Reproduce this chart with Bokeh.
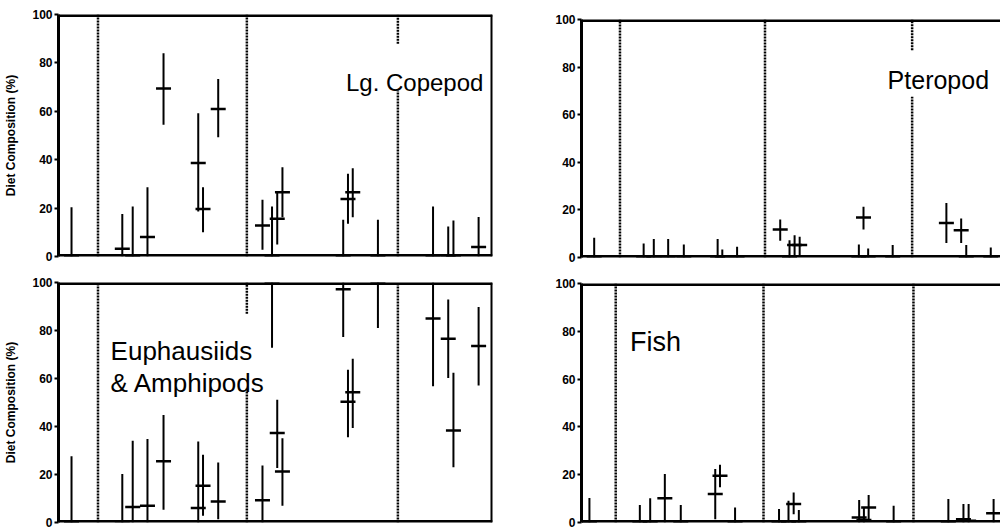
from bokeh.plotting import figure
from bokeh.layouts import row, column
from bokeh.models import FixedTicker, Span, ColumnDataSource
from bokeh.core.properties import value
from bokeh.embed import file_html
from bokeh.resources import INLINE

# ---------------- data ----------------
sample_pos = [3.0, 14.7, 17.1, 20.5, 24.2, 32.2, 33.3, 36.8, 47.0, 49.2,
              50.4, 51.6, 65.6, 66.7, 67.8, 73.6, 86.3, 89.8, 91.0, 96.8]
dividers = [9.1, 43.4, 78.2]
y_ticks = [0, 20, 40, 60, 80, 100]

copepod_mean = [0, 3.2, 0, 8.1, 69.4, 38.6, 19.6, 61.0, 12.8, 0,
                15.6, 26.6, 0, 23.8, 26.6, 0, 0, 0, 0, 3.9]
copepod_low = [0, 0, 0, 0, 54.4, 18.6, 10.0, 49.3, 2.8, 0,
               5.0, 16.2, 0, 13.5, 16.2, 0, 0, 0, 0, 0]
copepod_high = [20.4, 17.6, 20.7, 28.6, 84.0, 59.2, 28.6, 73.3, 23.4, 20.7,
                26.6, 36.9, 15.2, 34.2, 36.5, 15.2, 20.7, 12.4, 14.9, 16.3]

euph_mean = [0, 0.5, 6.5, 7.0, 25.5, 6.0, 15.3, 8.8, 9.3, 100,
             37.3, 21.2, 97.2, 50.3, 54.3, 100, 85.0, 76.6, 38.3, 73.5]
euph_low = [0, 0, 0, 0, 5.3, 0, 2.8, 1.4, 0, 72.8,
            22.7, 7.0, 77.3, 35.5, 39.4, 81.0, 56.8, 60.2, 23.0, 57.1]
euph_high = [27.6, 20.2, 34.1, 34.8, 44.8, 33.8, 28.2, 25.0, 23.7, 100,
             51.1, 35.1, 100, 63.6, 68.2, 100, 100, 92.9, 62.4, 89.8]

ptero_mean = [0, 0, 0, 0, 0, 0, 0, 0, 11.8, 0,
              5.2, 5.2, 0, 16.8, 0, 0, 14.5, 11.5, 0, 0]
ptero_low = [0, 0, 0, 0, 0, 0, 0, 0, 7.0, 0,
             1.0, 0.5, 0, 11.8, 0, 0, 6.1, 6.1, 0, 0]
ptero_high = [8.3, 5.9, 7.8, 7.8, 5.5, 7.8, 3.4, 4.5, 16.0, 7.3,
              9.4, 8.7, 5.5, 21.3, 3.8, 5.2, 22.9, 16.4, 5.2, 4.2]

fish_mean = [0, 0, 0, 10.1, 0, 11.9, 19.6, 0, 0, 0,
             7.7, 0, 2.1, 1.0, 6.3, 0, 0, 1.4, 0.7, 3.9]
fish_low = [0, 0, 0, 0, 0, 1.4, 14.7, 0, 0, 0,
            3.5, 0, 0, 0, 1.4, 0, 0, 0, 0, 0]
fish_high = [10.2, 7.3, 10.1, 20.3, 7.3, 22.4, 24.2, 6.3, 5.6, 9.1,
             12.6, 5.2, 9.4, 6.3, 11.5, 7.0, 9.8, 7.7, 7.7, 9.8]

# divider pieces (y from, y to) per divider, per panel
copepod_div = [[(0, 100)], [(0, 100)], [(0, 68.6), (87.9, 100)]]
euph_div = [[(0, 100)], [(0, 55.7), (87.0, 100)], [(0, 100)]]
ptero_div = [[(0, 100)], [(0, 100)], [(0, 67.5), (87.1, 100)]]
fish_div = [[(0, 100)], [(0, 100)], [(0, 100)]]

FONT = "Liberation Sans"


def make_panel(mean, low, high, divs, labels, x_range, width, height,
               bl, bt, bb, br, ylabel, right_edge):
    p = figure(width=width, height=height, x_range=x_range, y_range=(0, 100),
               output_backend="svg", toolbar_location=None,
               min_border_left=bl, min_border_top=bt, min_border_bottom=bb,
               min_border_right=br)
    p.xgrid.visible = False
    p.ygrid.visible = False
    p.xaxis.visible = False
    p.outline_line_color = None
    p.background_fill_color = "white"
    p.border_fill_color = "white"

    ax = p.yaxis[0]
    ax.ticker = FixedTicker(ticks=y_ticks)
    ax.axis_line_width = 3
    ax.axis_line_color = "black"
    ax.major_tick_out = 4
    ax.major_tick_in = 0
    ax.major_tick_line_width = 2
    ax.major_tick_line_color = "black"
    ax.minor_tick_line_color = None
    ax.major_label_standoff = 2
    ax.major_label_text_font = FONT
    ax.major_label_text_font_style = "bold"
    ax.major_label_text_font_size = "12px"
    ax.major_label_text_color = "black"
    if ylabel:
        ax.axis_label = ylabel
        ax.axis_label_text_font = FONT
        ax.axis_label_text_font_style = "bold"
        ax.axis_label_text_font_size = "12px"
        ax.axis_label_text_color = "black"
        ax.axis_label_standoff = 11

    # frame edges (drawn inside the frame)
    p.add_layout(Span(location=0, dimension="width", line_color="black", line_width=5))
    p.add_layout(Span(location=100, dimension="width", line_color="black", line_width=5))
    if right_edge:
        p.add_layout(Span(location=x_range[1], dimension="height",
                          line_color="black", line_width=4))

    # dotted dividers
    dx, dy0, dy1 = [], [], []
    for xpos, pieces in zip(dividers, divs):
        for a, b in pieces:
            dx.append(xpos)
            dy0.append(a)
            dy1.append(b)
    p.segment(x0=dx, y0=dy0, x1=dx, y1=dy1, line_color="black",
              line_width=2.5, line_dash="2 1")

    src = ColumnDataSource(dict(x=sample_pos, m=mean, lo=low, hi=high))
    p.segment(x0="x", y0="lo", x1="x", y1="hi", source=src,
              line_color="black", line_width=2)
    p.scatter(x="x", y="m", source=src, marker="dash", size=15,
              line_color="black", line_width=2.5)

    for (tx, ty, txt, size, align) in labels:
        p.text(x=[tx], y=[ty], text=[txt], text_font=value(FONT),
               text_font_size=value(size), text_align=align,
               text_baseline="alphabetic", text_color="black")
    return p


p_cop = make_panel(copepod_mean, copepod_low, copepod_high, copepod_div,
                   [(97.9, 72.0, "Lg. Copepod", "24px", "right")],
                   (0, 100), 500, 270, 58, 14, 14, 8,
                   "Diet Composition (%)", True)
p_euph = make_panel(euph_mean, euph_low, euph_high, euph_div,
                    [(12.0, 71.3, "Euphausiids", "26px", "left"),
                     (12.0, 58.1, "& Amphipods", "26px", "left")],
                    (0, 100), 500, 259, 58, 12, 7, 8,
                    "Diet Composition (%)", True)
p_ptero = make_panel(ptero_mean, ptero_low, ptero_high, ptero_div,
                     [(72.4, 74.5, "Pteropod", "25px", "left")],
                     (0, 99.1), 500, 270, 73, 19, 13, 0, None, False)
p_fish = make_panel(fish_mean, fish_low, fish_high, fish_div,
                    [(12.4, 75.5, "Fish", "27px", "left")],
                    (1.16, 98.4), 500, 259, 81, 13, 7, 0, None, False)

layout = row(column(p_cop, p_euph), column(p_ptero, p_fish))

open("out.html", "w").write(file_html(layout, INLINE))
